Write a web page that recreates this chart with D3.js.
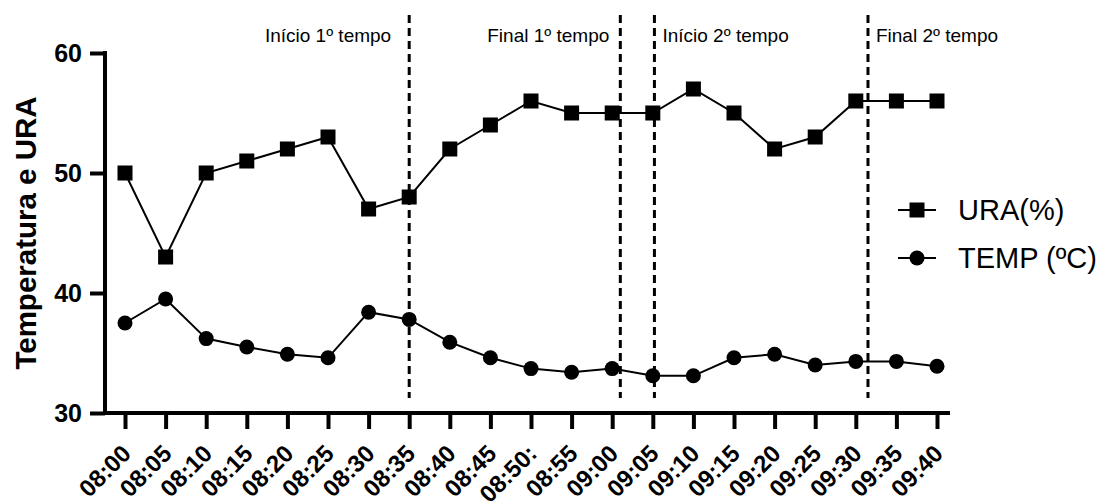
<!DOCTYPE html>
<html>
<head>
<meta charset="utf-8">
<script src="https://cdn.jsdelivr.net/npm/d3@7"></script>
<style>
  html, body { margin: 0; padding: 0; background: #fff; }
  svg { display: block; font-family: Arial, "Liberation Sans", sans-serif; }
</style>
</head>
<body>
<svg id="chart" width="1104" height="503"></svg>
<script>
// ---- data ----
const categories = ["08:00","08:05","08:10","08:15","08:20","08:25","08:30","08:35","08:40","08:45","08:50:","08:55","09:00","09:05","09:10","09:15","09:20","09:25","09:30","09:35","09:40"];
const uraValues  = [50,43,50,51,52,53,47,48,52,54,56,55,55,55,57,55,52,53,56,56,56];
const tempValues = [37.5,39.5,36.2,35.5,34.9,34.6,38.4,37.8,35.9,34.6,33.7,33.4,33.7,33.1,33.1,34.6,34.9,34.0,34.3,34.3,33.9];
const yTicks = [30,40,50,60];
const eventMinutes = [35, 61, 65.2, 91.5];           // minutes after 08:00
const eventLabels  = ["Início 1º tempo","Final 1º tempo","Início 2º tempo","Final 2º tempo"];
const seriesNames  = ["URA(%)","TEMP (ºC)"];
const yTitle = "Temperatura e URA";

// ---- layout ----
const svg = d3.select("#chart");
const x = d3.scalePoint().domain(categories).range([125, 937]);
const xMin = d3.scaleLinear().domain([0, 100]).range([125, 937]);
const y = d3.scaleLinear().domain([30, 60]).range([413, 53]);
const axisLeftX = 105;

// event dashed lines
const ev = svg.append("g");
ev.selectAll("line").data(eventMinutes).join("line")
  .attr("x1", d => xMin(d)).attr("x2", d => xMin(d))
  .attr("y1", 15).attr("y2", 398)
  .attr("stroke", "#000").attr("stroke-width", 3)
  .attr("stroke-dasharray", "8,5");
const labelOffsets = [-18, -11, 8, 8];
const labelAnchors = ["end","end","start","start"];
ev.selectAll("text").data(eventLabels).join("text")
  .attr("x", (d,i) => xMin(eventMinutes[i]) + labelOffsets[i])
  .attr("y", 42)
  .attr("text-anchor", (d,i) => labelAnchors[i])
  .attr("font-size", 19)
  .attr("fill", "#000")
  .text(d => d);

// series lines
const lineGen = vals => d3.line().x((d,i) => x(categories[i])).y(d => y(d))(vals);
svg.append("path").attr("d", lineGen(uraValues)).attr("fill","none").attr("stroke","#000").attr("stroke-width",2);
svg.append("path").attr("d", lineGen(tempValues)).attr("fill","none").attr("stroke","#000").attr("stroke-width",2);

// markers
const sq = 15;
svg.append("g").selectAll("rect").data(uraValues).join("rect")
  .attr("x", (d,i) => x(categories[i]) - sq/2)
  .attr("y", d => y(d) - sq/2)
  .attr("width", sq).attr("height", sq).attr("fill", "#000");
svg.append("g").selectAll("circle").data(tempValues).join("circle")
  .attr("cx", (d,i) => x(categories[i]))
  .attr("cy", d => y(d))
  .attr("r", 7.5).attr("fill", "#000");

// y axis
const yAxis = svg.append("g").attr("transform", `translate(${axisLeftX},0)`)
  .call(d3.axisLeft(y).tickValues(yTicks).tickSize(15).tickSizeOuter(0).tickPadding(8));
yAxis.select(".domain").attr("stroke-width", 4).attr("d", `M0,${y(60)-2}V${y(30)}`);
yAxis.selectAll(".tick line").attr("stroke-width", 4);
yAxis.selectAll(".tick text").attr("font-size", 25).attr("font-weight", "bold")
  .attr("font-family", "Arial, 'Liberation Sans', sans-serif").attr("fill", "#000");

// x axis
const xAxis = svg.append("g").attr("transform", `translate(0,${y(30)})`)
  .call(d3.axisBottom(x).tickSize(16).tickSizeOuter(0));
xAxis.select(".domain").attr("stroke-width", 4).attr("d", `M${axisLeftX-2},0H950`);
xAxis.selectAll(".tick line").attr("stroke-width", 4);
xAxis.selectAll(".tick text")
  .attr("font-size", 24).attr("font-weight", "bold")
  .attr("font-family", "Arial, 'Liberation Sans', sans-serif").attr("fill", "#000")
  .attr("text-anchor", "end")
  .attr("dy", null)
  .attr("y", 0)
  .attr("transform", "translate(7,42) rotate(-45)");

// y title
svg.append("text")
  .attr("transform", `translate(36,233) rotate(-90)`)
  .attr("text-anchor", "middle")
  .attr("font-size", 29.5).attr("font-weight", "bold")
  .attr("fill", "#000")
  .text(yTitle);

// legend
const legend = svg.append("g");
const legY = [210, 258];
legend.selectAll("line.l").data(seriesNames).join("line")
  .attr("class","l")
  .attr("x1", 898).attr("x2", 936)
  .attr("y1", (d,i) => legY[i]).attr("y2", (d,i) => legY[i])
  .attr("stroke", "#000").attr("stroke-width", 2);
legend.append("rect").attr("x", 917 - sq/2).attr("y", legY[0] - sq/2).attr("width", sq).attr("height", sq).attr("fill", "#000");
legend.append("circle").attr("cx", 917).attr("cy", legY[1]).attr("r", 7.5).attr("fill", "#000");
legend.selectAll("text").data(seriesNames).join("text")
  .attr("x", 958).attr("y", (d,i) => legY[i] + 10)
  .attr("font-size", 29).attr("fill", "#000")
  .text(d => d);
</script>
</body>
</html>
